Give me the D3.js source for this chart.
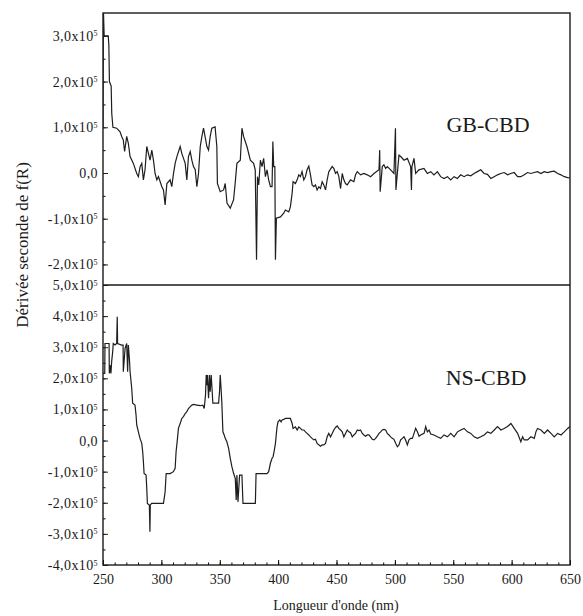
<!DOCTYPE html>
<html>
<head>
<meta charset="utf-8">
<script src="https://cdn.jsdelivr.net/npm/d3@7"></script>
<style>
  body { margin: 0; background: #fff; }
  svg text { font-family: "Liberation Serif", "Times New Roman", serif !important; fill: #1a1a1a; }
</style>
</head>
<body>
<div id="vis"></div>
<script>
// wavelength (nm) and second derivative of f(R) (x10^-5)
const gbWavelength = [250, 250.3, 251, 254.5, 255, 255.5, 257, 257.5, 258.5, 261.7, 264.6, 266, 267.4, 268.5, 270.3, 271.7, 273.2, 276, 278.9, 280.3,
  281.8, 283.2, 284.6, 286, 287.5, 288.9, 290.3, 291.8, 293.2, 294.6, 296.1, 297.5, 300.4, 301.8, 303.2, 304.7, 307.5, 308.9, 310.4, 311.8,
  313.3, 316.1, 317.5, 320.4, 321.8, 323.2, 324.7, 326.1, 327.5, 329, 330.4, 331.8, 333.3, 334.7, 336.1, 339, 340.4, 341.8, 343.2, 346,
  347.5, 348, 350.4, 353.3, 354.7, 356.2, 359, 361.8, 363.2, 364.7, 367.6, 369, 370.4, 373.3, 376.2, 379, 380.4, 381.5, 382.3, 383.4,
  384.8, 386.2, 387.6, 389.1, 390.5, 391.9, 393.4, 394.8, 395.5, 396.2, 397.2, 397.7, 398.5, 402, 404.8, 406.2, 409.1, 410.5, 412, 412.8,
  414.8, 416.3, 417.7, 419.1, 420.5, 422, 423.4, 424.8, 426.3, 427.7, 429.1, 430.6, 432, 433.4, 434.9, 436.3, 437.7, 439.1, 440.6, 442,
  443.4, 446.3, 447.7, 449.2, 450.6, 452, 453.5, 454.9, 456.3, 457.7, 459.2, 462, 464.9, 466.3, 467.8, 470.6, 473.5, 476.3, 479.2, 482.1,
  486.4, 487, 487.4, 489.2, 490.6, 492.1, 493.5, 496.4, 499.2, 500.5, 500.9, 502.1, 503.5, 505, 507.8, 510.7, 513.5, 514.2, 514.6, 516.4,
  517.8, 520.6, 524.9, 527.8, 530.7, 533.5, 536.4, 539.2, 542.1, 545, 547.8, 550.7, 553.5, 556.4, 559.3, 562.1, 565, 567.8, 570.7, 573.6,
  576.4, 579.3, 582.2, 585, 587.9, 590.7, 593.6, 596.5, 599.3, 602.2, 605.1, 607.9, 610.8, 613.6, 616.5, 619.3, 622.2, 625.1, 627.9, 630.8,
  633.7, 636.5, 639.4, 642.2, 645.1, 648, 650]
const gbValue = [1.0, 3.6, 3.0, 3.0, 2.8, 2.0, 1.9, 1.3, 1.0, 0.98, 0.9, 0.8, 0.72, 0.47, 0.8, 0.65, 0.36, 0.21, -0.01, -0.08,
  0.14, 0.21, -0.15, 0.07, 0.58, 0.43, 0.28, 0.5, 0.28, -0.01, -0.15, -0.08, -0.3, -0.37, -0.7, -0.23, -0.15, -0.3, -0.01, 0.21,
  0.36, 0.58, 0.43, 0.21, -0.15, 0.36, 0.47, 0.28, 0.14, 0.07, -0.3, -0.01, 0.58, 0.8, 0.98, 0.58, 0.5, 0.8, 0.98, 1.01,
  0.58, -0.23, -0.41, -0.37, -0.23, -0.66, -0.77, -0.59, -0.23, 0.21, 0.28, 0.98, 0.8, 0.58, 0.28, 0.21, 0.07, -1.9, -0.08, -0.26,
  0.28, 0.14, 0.32, -0.08, 0.07, -0.15, -0.3, -0.3, 0.69, 0.14, 0.14, -1.9, -0.99, -0.96, -0.88, -0.81, -0.85, -0.74, -0.44, -0.19,
  -0.23, -0.15, -0.04, -0.08, 0.03, -0.15, -0.08, 0.07, 0.15, -0.04, -0.26, -0.3, -0.26, -0.37, -0.3, -0.34, -0.19, -0.26, -0.37, -0.15,
  0.03, 0.14, 0.1, -0.01, 0.03, -0.08, -0.34, -0.01, -0.15, -0.23, -0.26, -0.15, -0.19, -0.04, 0.03, -0.04, -0.01, -0.04, -0.08, -0.01,
  0.07, 0.5, -0.41, 0.14, 0.18, 0.1, 0.14, 0.07, -0.01, 0.98, -0.37, -0.01, 0.39, 0.36, 0.28, 0.32, 0.14, -0.37, 0.14, 0.32,
  -0.01, 0.07, 0.1, -0.01, 0.03, -0.04, 0.03, -0.08, -0.12, -0.08, -0.15, -0.08, -0.12, -0.04, -0.08, -0.04, -0.06, -0.01, 0.03, 0.07,
  -0.01, -0.03, -0.12, -0.08, -0.04, -0.01, 0.01, -0.04, -0.01, 0.01, -0.08, -0.08, -0.04, 0.01, -0.01, 0.01, 0.03, -0.01, 0.03, 0.01,
  0.03, 0.04, -0.01, -0.04, -0.08, -0.1, -0.11]

const nsWavelength = [250, 251.5, 251.7, 255.2, 255.4, 256, 256.8, 257.4, 258.3, 258.8, 260.3, 261.7, 262.2, 262.5, 266, 267.2, 267.4, 268.9, 270.3, 271.1,
  271.7, 272.6, 273.2, 274.6, 275.4, 277.4, 278.3, 278.9, 280.3, 281.7, 283.2, 284, 284.6, 285.2, 286.9, 287.5, 288, 289.7, 290.2, 290.5,
  291.7, 301.8, 303.2, 304.1, 307.5, 310.3, 311.8, 312.6, 313.8, 314.6, 316.1, 317.5, 318.9, 320.4, 321.8, 323.2, 324.7, 326.1, 327.5, 330.4,
  333.2, 335.5, 336.7, 337.8, 338.4, 339, 339.5, 340.4, 341.2, 341.8, 342.7, 343.2, 344.1, 349, 349.8, 350.4, 351.3, 351.8, 352.7, 353.8,
  354.7, 356.1, 357.6, 359, 360.4, 361.9, 363.3, 364.1, 364.7, 365.6, 367, 369, 369.9, 380.5, 381.1, 390.5, 391.9, 393.4, 394.8, 395.7,
  396.8, 397.7, 398.5, 399.1, 399.9, 401.4, 402.5, 403.4, 404.8, 406.2, 410.5, 412, 412.8, 414.8, 416.3, 417.7, 419.1, 420.5, 422, 423.4,
  424.8, 426.3, 427.7, 429.1, 430.6, 432, 433.4, 436.3, 437.7, 439.1, 440.6, 442, 443.4, 444.9, 446.3, 447.7, 449.2, 450.6, 452, 453.5,
  454.9, 456.3, 457.7, 459.2, 460.6, 462, 463.5, 464.9, 466.3, 467.8, 469.2, 470.6, 472.1, 473.5, 474.9, 476.3, 477.8, 479.2, 480.6, 482.1,
  483.5, 484.9, 486.4, 487.8, 489.2, 490.6, 492.1, 493.5, 494.9, 496.4, 497.8, 499.2, 500.7, 502.1, 503.5, 504.9, 506.4, 507.8, 509.2, 510.7,
  512.1, 513.5, 515, 516.4, 517.8, 519.3, 520.7, 522.1, 525, 526.4, 527.8, 529.3, 530.7, 533.5, 536.4, 539.3, 542.1, 545, 547.9, 550.7,
  553.6, 556.4, 559.3, 562.2, 565, 567.9, 570.7, 573.6, 576.5, 579.3, 582.2, 585.1, 587.9, 590.8, 593.6, 596.5, 599.4, 602.2, 605.1, 607.9,
  609.4, 610.8, 613.7, 616.5, 619.4, 620.8, 622.2, 625.1, 628, 630.8, 633.7, 636.5, 639.4, 642.3, 645.1, 648, 650]
const nsValue = [2.16, 2.16, 3.12, 3.12, 2.16, 2.43, 2.16, 2.53, 2.86, 3.12, 3.07, 3.12, 3.98, 3.12, 3.07, 3.07, 2.21, 2.96, 3.12, 2.21,
  3.07, 2.64, 2.21, 1.68, 1.2, 1.14, 0.82, 0.5, 0.28, 0.07, -0.09, -0.36, -0.68, -1.06, -1.11, -1.54, -2.02, -2.07, -2.93, -2.07,
  -2.02, -2.02, -1.65, -1.06, -1.06, -1.0, -0.89, -0.36, 0.07, 0.39, 0.55, 0.71, 0.77, 0.87, 0.93, 1.03, 1.09, 1.14, 1.16, 1.14,
  1.12, 1.14, 1.03, 1.46, 2.11, 1.78, 2.11, 1.36, 2.11, 1.57, 2.11, 1.78, 1.2, 1.2, 1.57, 2.11, 1.57, 1.2, 0.28, 0.18,
  0.07, -0.04, -0.25, -0.57, -0.84, -1.06, -1.22, -1.91, -1.11, -1.97, -1.11, -1.11, -2.02, -2.02, -1.06, -1.06, -1.0, -0.73, -0.57, -0.52,
  -0.3, -0.09, 0.23, 0.44, 0.6, 0.66, 0.6, 0.66, 0.68, 0.71, 0.71, 0.55, 0.39, 0.44, 0.34, 0.44, 0.39, 0.34, 0.34, 0.28,
  0.23, 0.18, 0.12, 0.07, 0.02, 0.04, -0.09, -0.18, -0.14, -0.14, -0.09, 0.12, 0.23, 0.12, 0.23, 0.34, 0.42, 0.47, 0.39, 0.34,
  0.28, 0.12, 0.23, 0.34, 0.28, 0.25, 0.12, 0.18, 0.23, 0.34, 0.32, 0.34, 0.23, 0.18, 0.14, 0.18, 0.18, 0.12, 0.04, 0.02,
  0.07, 0.14, 0.23, 0.28, 0.34, 0.36, 0.34, 0.23, 0.18, 0.12, 0.07, 0.04, -0.09, -0.2, -0.14, 0.02, 0.07, 0.12, 0.02, -0.14,
  0.02, 0.07, 0.07, 0.23, 0.39, 0.28, 0.14, 0.18, 0.23, 0.45, 0.28, 0.34, 0.21, 0.18, 0.12, 0.07, 0.18, 0.12, 0.23, 0.12,
  0.28, 0.34, 0.39, 0.28, 0.23, 0.12, 0.07, 0.12, 0.18, 0.28, 0.23, 0.34, 0.45, 0.34, 0.39, 0.45, 0.55, 0.39, 0.23, -0.04,
  0.12, 0.02, 0.02, 0.12, 0.07, 0.28, 0.39, 0.34, 0.23, 0.34, 0.23, 0.12, 0.23, 0.18, 0.28, 0.39, 0.45]

const xTicks = [250, 300, 350, 400, 450, 500, 550, 600, 650]
const gbTicks = [-2, -1, 0, 1, 2, 3]
const nsTicks = [-4, -3, -2, -1, 0, 1, 2, 3, 4, 5]
const panelNames = ['GB-CBD', 'NS-CBD']

const width = 583
const height = 616
const plotLeft = 103, plotRight = 570
const plotTop = 13, plotMid = 285, plotBottom = 565
const serif = '"Liberation Serif", "Times New Roman", serif'

const svg = d3.select('#vis').append('svg')
  .attr('width', width)
  .attr('height', height)
  .style('font-family', serif)

const x = d3.scaleLinear().domain([250, 650]).range([plotLeft, plotRight])
const yGB = d3.scaleLinear().domain([-2.45, 3.5]).range([plotMid, plotTop])
const yNS = d3.scaleLinear().domain([-4, 5]).range([plotBottom, plotMid])

svg.append('clipPath').attr('id', 'clipGB')
  .append('rect').attr('x', plotLeft).attr('y', plotTop).attr('width', plotRight - plotLeft).attr('height', plotMid - plotTop)
svg.append('clipPath').attr('id', 'clipNS')
  .append('rect').attr('x', plotLeft).attr('y', plotMid).attr('width', plotRight - plotLeft).attr('height', plotBottom - plotMid)

//label like 3,0x10^5 with a small raised exponent
function sciLabel(sel, d) {
  sel.text(null)
  if (d === 0) { sel.text('0,0'); return }
  sel.append('tspan').text((d < 0 ? '-' : '') + Math.abs(d).toFixed(1).replace('.', ',') + 'x10')
  sel.append('tspan').attr('dy', '-0.55em').attr('font-size', '8px').text('5')
}

function drawY(scale, ticks, minor) {
  svg.append('g')
    .attr('transform', `translate(${plotLeft},0)`)
    .call(d3.axisLeft(scale).tickValues(minor).tickSize(-2.5).tickFormat(''))
    .call(g => g.select('.domain').remove())
  const g = svg.append('g')
    .attr('transform', `translate(${plotLeft},0)`)
    .call(d3.axisLeft(scale).tickValues(ticks).tickSize(-5).tickPadding(5))
  g.attr('font-family', null).style('font-family', serif)
  g.select('.domain').remove()
  g.selectAll('.tick text')
    .style('font-family', serif)
    .style('font-size', '14px')
    .style('letter-spacing', '0.4px')
    .each(function (d) { sciLabel(d3.select(this), d) })
  g.selectAll('line').attr('stroke', '#222')
}

drawY(yGB, gbTicks, d3.range(-2, 3.01, 0.5))
drawY(yNS, nsTicks, d3.range(-4, 5.01, 0.5))

//bottom axis
svg.append('g')
  .attr('transform', `translate(0,${plotBottom})`)
  .call(d3.axisBottom(x).tickValues(d3.range(250, 651, 10)).tickSize(-2.5).tickFormat(''))
  .call(g => g.select('.domain').remove())
const xg = svg.append('g')
  .attr('transform', `translate(0,${plotBottom})`)
  .call(d3.axisBottom(x).tickValues(xTicks).tickSize(-5).tickPadding(9).tickFormat(d3.format('d')))
xg.attr('font-family', null)
xg.select('.domain').remove()
xg.selectAll('.tick text').style('font-family', serif).style('font-size', '14px')

//frame
const frame = svg.append('g').attr('fill', 'none').attr('stroke', '#1a1a1a')
frame.append('rect')
  .attr('x', plotLeft).attr('y', plotTop).attr('width', plotRight - plotLeft).attr('height', plotBottom - plotTop)
  .attr('stroke-width', 1.4)
frame.append('line')
  .attr('x1', plotLeft).attr('x2', plotRight).attr('y1', plotMid).attr('y2', plotMid)
  .attr('stroke-width', 1.6)

//curves
const line = yScale => d3.line()
  .x(d => x(d[0]))
  .y(d => yScale(d[1]))

svg.append('path')
  .datum(d3.zip(gbWavelength, gbValue))
  .attr('clip-path', 'url(#clipGB)')
  .attr('fill', 'none')
  .attr('stroke', '#1e1e1e')
  .attr('stroke-width', 1.2)
  .attr('d', line(yGB))

svg.append('path')
  .datum(d3.zip(nsWavelength, nsValue))
  .attr('clip-path', 'url(#clipNS)')
  .attr('fill', 'none')
  .attr('stroke', '#1e1e1e')
  .attr('stroke-width', 1.2)
  .attr('d', line(yNS))

//panel names
svg.append('text').attr('x', 488).attr('y', 132).attr('text-anchor', 'middle')
  .style('font-size', '22px').text(panelNames[0])
svg.append('text').attr('x', 486).attr('y', 385).attr('text-anchor', 'middle')
  .style('font-size', '22px').text(panelNames[1])

//axis titles
svg.append('text')
  .attr('x', 336).attr('y', 610)
  .attr('text-anchor', 'middle')
  .style('font-size', '14px')
  .text("Longueur d'onde (nm)")

svg.append('text')
  .attr('transform', 'translate(28,245) rotate(-90)')
  .attr('text-anchor', 'middle')
  .style('font-size', '17px')
  .text('Dérivée seconde de f(R)')
</script>
</body>
</html>
